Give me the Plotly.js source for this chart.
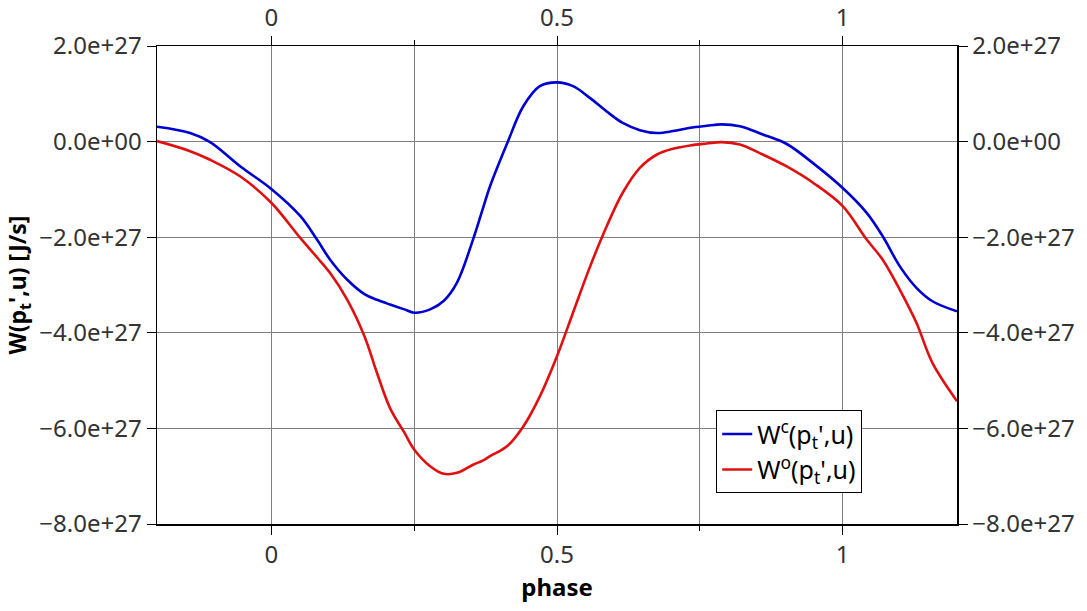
<!DOCTYPE html>
<html>
<head>
<meta charset="utf-8">
<script src="https://cdn.plot.ly/plotly-3.0.1.min.js"></script>
<style>
  html, body { margin: 0; padding: 0; background: #fff; }
  #chart { width: 1087px; height: 611px; }
</style>
</head>
<body>
<div id="chart"></div>
<script>
// phase samples
const phase = [
  -0.2, -0.142, -0.107, -0.054, 0.0, 0.051, 0.080, 0.103, 0.133, 0.163,
  0.185, 0.208, 0.233, 0.25, 0.278, 0.302, 0.325, 0.353, 0.369, 0.383, 0.413,
  0.441, 0.470, 0.50, 0.528, 0.558, 0.587, 0.615, 0.645, 0.675, 0.703,
  0.733, 0.762, 0.788, 0.820, 0.860, 0.902, 0.948, 1.0, 1.042, 1.070,
  1.100, 1.129, 1.157, 1.2
];

// W^c(p_t',u), in units of 1e27 J/s
const wClosed = [
  0.31, 0.18, -0.01, -0.52, -0.99, -1.56, -2.05, -2.47, -2.89, -3.19,
  -3.31, -3.41, -3.51, -3.58, -3.51, -3.33, -2.95, -2.05, -1.45, -0.93, -0.03,
  0.74, 1.16, 1.24, 1.16, 0.91, 0.63, 0.39, 0.24, 0.18, 0.22,
  0.29, 0.33, 0.36, 0.32, 0.15, -0.05, -0.45, -0.97, -1.49, -1.98,
  -2.61, -3.06, -3.34, -3.55
];

// W^o(p_t',u), in units of 1e27 J/s
const wOpen = [
  0.01, -0.20, -0.38, -0.73, -1.28, -2.02, -2.42, -2.75, -3.31, -4.07,
  -4.84, -5.58, -6.09, -6.44, -6.79, -6.95, -6.93, -6.76, -6.68, -6.58, -6.37,
  -5.96, -5.33, -4.49, -3.58, -2.61, -1.77, -1.07, -0.55, -0.27, -0.15,
  -0.08, -0.04, -0.01, -0.06, -0.27, -0.52, -0.86, -1.35, -2.05, -2.47,
  -3.10, -3.79, -4.63, -5.43
];

const UNIT = 1e27;
const xTickVals = [0, 0.5, 1];
const xTickText = ["0", "0.5", "1"];
const yTickVals = [2e27, 0, -2e27, -4e27, -6e27, -8e27];
const yTickText = ["2.0e+27", "0.0e+00", "\u22122.0e+27", "\u22124.0e+27", "\u22126.0e+27", "\u22128.0e+27"];

const FONT = "Noto Sans, Open Sans, sans-serif";
const GRID = "#808080";

const scaled = arr => arr.map(v => v * UNIT);

const traces = [
  {
    type: "scatter", mode: "lines", name: "W<sup>c</sup>(p<sub>t</sub>',u)",
    x: phase, y: scaled(wClosed),
    line: { color: "#0000d0", width: 2.6, shape: "spline", smoothing: 1 }
  },
  {
    type: "scatter", mode: "lines", name: "W<sup>o</sup>(p<sub>t</sub>',u)",
    x: phase, y: scaled(wOpen),
    line: { color: "#e01010", width: 2.6, shape: "spline", smoothing: 1 }
  },
  // invisible carrier so the top / right axes get drawn
  {
    type: "scatter", mode: "lines", x: phase, y: scaled(wOpen),
    xaxis: "x2", yaxis: "y2", showlegend: false, hoverinfo: "skip",
    line: { color: "rgba(0,0,0,0)", width: 0 }
  }
];

const tickFont = { family: FONT, size: 24, color: "#333" };

const layout = {
  width: 1087, height: 611,
  margin: { l: 157, r: 130, t: 46, b: 87 },
  paper_bgcolor: "#fff", plot_bgcolor: "#fff",
  font: { family: FONT, color: "#333" },
  showlegend: true,
  legend: {
    x: 0.699, y: 0.238, xanchor: "left", yanchor: "top",
    bgcolor: "#fff", bordercolor: "#000", borderwidth: 1,
    font: { family: FONT, size: 25, color: "#000" },
    tracegroupgap: 0
  },
  xaxis: {
    range: [-0.2, 1.2], tickvals: xTickVals, ticktext: xTickText,
    ticks: "outside", ticklen: 9, tickcolor: "#000", tickwidth: 1,
    showline: true, linecolor: "#000", linewidth: 1.5,
    showgrid: true, gridcolor: GRID, gridwidth: 1, zeroline: false,
    minor: { dtick: 0.25, tick0: 0, ticks: "outside", ticklen: 5, tickcolor: "#000", showgrid: true, gridcolor: GRID, gridwidth: 1 },
    tickfont: tickFont,
    title: { text: "<b>phase</b>", font: { family: FONT, size: 24, color: "#000" }, standoff: 6 }
  },
  xaxis2: {
    overlaying: "x", side: "top", range: [-0.2, 1.2],
    tickvals: xTickVals, ticktext: xTickText,
    ticks: "outside", ticklen: 9, tickcolor: "#000",
    showline: true, linecolor: "#000", linewidth: 1.5,
    showgrid: false, zeroline: false,
    minor: { dtick: 0.25, tick0: 0, ticks: "outside", ticklen: 5, tickcolor: "#000", showgrid: false },
    tickfont: tickFont
  },
  yaxis: {
    range: [-8e27, 2e27], tickvals: yTickVals, ticktext: yTickText,
    ticks: "outside", ticklen: 9, tickcolor: "#000",
    showline: true, linecolor: "#000", linewidth: 1.5,
    showgrid: true, gridcolor: GRID, gridwidth: 1, zeroline: false,
    tickfont: tickFont,
    title: { text: "<b>W(p<sub>t</sub>',u) [J/s]</b>", font: { family: FONT, size: 23, color: "#000" }, standoff: 6 }
  },
  yaxis2: {
    overlaying: "y", side: "right", range: [-8e27, 2e27],
    tickvals: yTickVals, ticktext: yTickText,
    ticks: "outside", ticklen: 9, tickcolor: "#000",
    showline: true, linecolor: "#000", linewidth: 1.5,
    showgrid: false, zeroline: false,
    tickfont: tickFont
  }
};

Plotly.newPlot("chart", traces, layout, { displayModeBar: false, staticPlot: true });
</script>
</body>
</html>
